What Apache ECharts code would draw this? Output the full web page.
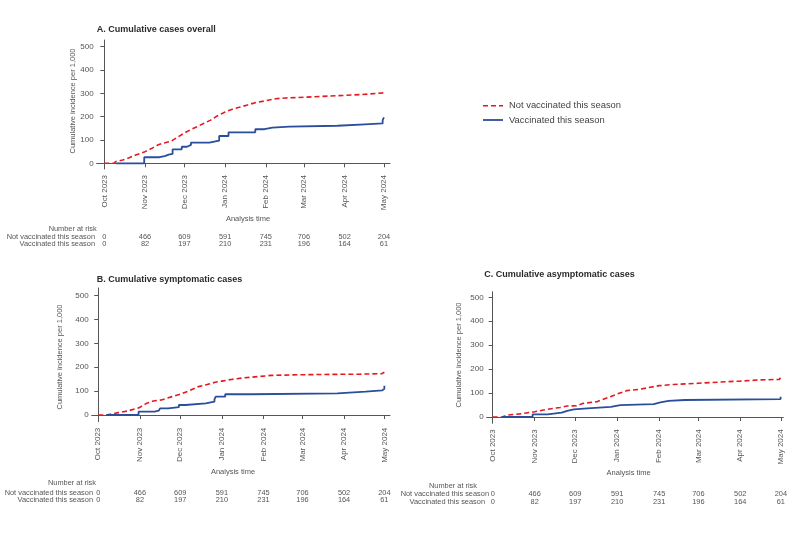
<!DOCTYPE html>
<html><head><meta charset="utf-8">
<script src="https://cdn.jsdelivr.net/npm/echarts@6/dist/echarts.min.js"></script>
<style>html,body{margin:0;padding:0;background:#fff}#c{width:800px;height:538px}</style>
</head><body><div id="c"></div>
<script>
// ---- data ----
const monthDays = [0, 31, 61, 92, 123, 152, 183, 213];           // days since 1 Oct 2023
const monthLabels = ['Oct 2023','Nov 2023','Dec 2023','Jan 2024','Feb 2024','Mar 2024','Apr 2024','May 2024'];
const yTicks = [0, 100, 200, 300, 400, 500];
const seriesNames = ['Not vaccinated this season', 'Vaccinated this season'];
const panelTitles = ['A. Cumulative cases overall', 'B. Cumulative symptomatic cases', 'C. Cumulative asymptomatic cases'];
const riskNotVax = [0, 466, 609, 591, 745, 706, 502, 204];
const riskVax = [0, 82, 197, 210, 231, 196, 164, 61];

// Panel A
const aNotVaxDays = [0, 7, 9, 14, 19, 24, 31, 35.5, 40.6, 44.4, 50.7, 55.8, 61, 66, 71, 76, 81, 86, 92, 97.6, 102.7, 109, 115, 123, 130.6, 138, 152, 166, 182.6, 196.5, 209, 212, 213.2];
const aNotVaxVals = [0, 0, 8, 14, 24, 36, 50, 62, 78, 86, 94, 112, 130, 145, 158, 172, 185, 203, 220, 232, 240, 250, 260, 268, 277, 280, 283, 287, 291, 295, 300, 302, 305];
const aVaxDays = [9, 30.4, 42, 46, 49, 52, 59, 63, 66, 80, 87.5, 94.6, 115, 122, 128, 141, 177.5, 198.5, 212, 213];
const aVaxVals = [0, 26, 31, 37, 40, 60, 71, 79, 89, 97, 117, 133, 146, 153, 157, 161, 167, 171, 185, 197];
// Panel B
const bNotVaxDays = [0, 6, 15, 22, 30.6, 36, 41, 47, 55, 61, 67, 74.6, 81, 87, 92, 99, 109, 119, 129, 144, 169, 194, 211, 213];
const bNotVaxVals = [0, 0, 10, 17, 31, 49, 59, 63, 77, 87, 100, 119, 128, 137, 142, 149, 156, 161, 166, 168, 170, 171, 173, 179];
const bVaxDays = [6, 30, 42, 45, 46, 52, 60, 65, 80, 86.5, 87.5, 94.5, 114, 178, 199, 211.5, 213];
const bVaxVals = [0, 14, 18, 22, 28, 33, 42, 49, 56, 66, 77, 87, 91, 98, 103, 110, 123];
// Panel C
const cNotVaxDays = [0, 7, 10.6, 20, 31, 40, 50, 55, 62, 67, 77, 87, 92, 99, 109, 123, 134, 152, 168, 183, 198, 212, 213];
const cNotVaxVals = [0, 0, 8, 13, 22, 32, 40, 46, 47, 57, 64, 85, 96, 110, 116, 131, 136, 141, 146, 150, 155, 157, 169];
const cVaxDays = [7, 29.5, 40.6, 51, 55, 60, 70, 87.4, 94.3, 119, 124, 130, 142, 212.8];
const cVaxVals = [0, 11, 18, 26, 32, 36, 42, 50, 54, 61, 67, 71, 75, 85];

// ---- layout ----
const FONT = 'Liberation Sans, Arial, sans-serif';
const TXT = '#555';
const RED = '#e3191f', BLUE = '#2a4e9b';
const grids = [
  {left: 96.7, top: 40, width: 293.3, height: 129},
  {left: 91.7, top: 288, width: 298.3, height: 133.7},
  {left: 486.7, top: 291.7, width: 296.6, height: 131.6}
];
const xRanges = [[-5.8, 217.6], [-4.9, 217.2], [-4.43, 214.8]];
const yRanges = [[-24.4, 528.5], [-28, 532], [-26.3, 523.4]];
const titlePos = [[96.7, 23.8], [96.7, 273.8], [484.3, 269.5]];
const yNamePos = [[73.3, 101], [60, 357], [459, 355]];
const xNamePos = [[248, 219], [233, 471.7], [628.7, 473.3]];
const riskLayout = [
  {h: [96.7, 229, 'right'], r1: [95, 236.5, 'right'], r2: [95, 243.5, 'right']},
  {h: [96, 482.7, 'right'], r1: [93, 492.5, 'right'], r2: [93, 499.5, 'right']},
  {h: [477, 486, 'right'], r1: [489, 494.3, 'right'], r2: [485, 501.7, 'right']}
];
const legendPos = {x: 483, y: [105.7, 120], len: 20, textX: 509};

const zip = (d, v) => d.map((x, i) => [x, v[i]]);
const panelData = [
  [zip(aNotVaxDays, aNotVaxVals), zip(aVaxDays, aVaxVals)],
  [zip(bNotVaxDays, bNotVaxVals), zip(bVaxDays, bVaxVals)],
  [zip(cNotVaxDays, cNotVaxVals), zip(cVaxDays, cVaxVals)]
];

const axisLine = {show: true, lineStyle: {color: '#555', width: 1}};
const xAxis = grids.map((g, i) => ({
  type: 'value', gridIndex: i, min: xRanges[i][0], max: xRanges[i][1],
  axisLine: axisLine, splitLine: {show: false},
  axisTick: {show: true, customValues: monthDays, length: 4, lineStyle: {color: '#555'}},
  axisLabel: {customValues: monthDays, rotate: 90, margin: 6, fontSize: 8, color: TXT, fontFamily: FONT,
    formatter: v => monthLabels[monthDays.indexOf(v)] || ''}
}));
const yAxis = grids.map((g, i) => ({
  type: 'value', gridIndex: i, min: yRanges[i][0], max: yRanges[i][1],
  axisLine: axisLine, splitLine: {show: false},
  axisTick: {show: true, customValues: yTicks, length: 4, lineStyle: {color: '#555'}},
  axisLabel: {customValues: yTicks, margin: 3, fontSize: 8, color: TXT, fontFamily: FONT}
}));
const series = [];
panelData.forEach((pd, i) => {
  series.push({name: seriesNames[0], type: 'line', xAxisIndex: i, yAxisIndex: i, data: pd[0],
    symbol: 'none', showSymbol: false, lineStyle: {color: RED, width: 1.6, type: [5, 3]}, itemStyle: {color: RED}});
  series.push({name: seriesNames[1], type: 'line', xAxisIndex: i, yAxisIndex: i, data: pd[1], step: 'end',
    symbol: 'none', showSymbol: false, lineStyle: {color: BLUE, width: 1.8}, itemStyle: {color: BLUE}});
});

const chart = echarts.init(document.getElementById('c'), null, {renderer: 'canvas'});
chart.setOption({
  animation: false,
  backgroundColor: '#fff',
  title: panelTitles.map((t, i) => ({text: t, left: titlePos[i][0], top: titlePos[i][1], padding: 0,
    textStyle: {fontSize: 9, fontWeight: 'bold', color: '#2a2a2a', fontFamily: FONT, lineHeight: 11}})),
  grid: grids,
  xAxis: xAxis,
  yAxis: yAxis,
  series: series
});

const gfx = [];
const txt = (x, y, s, align, size, rot, fill) => ({type: 'text', x: x, y: y, rotation: rot || 0, silent: true,
  style: {text: s, fill: fill || TXT, font: (size || 7.4) + 'px ' + FONT, align: align || 'center', verticalAlign: 'middle'}});
// legend
gfx.push({type: 'line', silent: true, shape: {x1: legendPos.x, y1: legendPos.y[0], x2: legendPos.x + legendPos.len, y2: legendPos.y[0]},
  style: {stroke: RED, lineWidth: 1.6, lineDash: [5, 3]}});
gfx.push({type: 'line', silent: true, shape: {x1: legendPos.x, y1: legendPos.y[1], x2: legendPos.x + legendPos.len, y2: legendPos.y[1]},
  style: {stroke: BLUE, lineWidth: 1.8}});
gfx.push(txt(legendPos.textX, legendPos.y[0], seriesNames[0], 'left', 9.4, 0, '#444'));
gfx.push(txt(legendPos.textX, legendPos.y[1], seriesNames[1], 'left', 9.4, 0, '#444'));

grids.forEach((g, i) => {
  gfx.push(txt(yNamePos[i][0], yNamePos[i][1], 'Cumulative incidence per 1,000', 'center', 7.5, Math.PI / 2));
  gfx.push(txt(xNamePos[i][0], xNamePos[i][1], 'Analysis time', 'center', 7.5));
  const L = riskLayout[i];
  gfx.push(txt(L.h[0], L.h[1], 'Number at risk', L.h[2]));
  gfx.push(txt(L.r1[0], L.r1[1], seriesNames[0], L.r1[2]));
  gfx.push(txt(L.r2[0], L.r2[1], seriesNames[1], L.r2[2]));
  monthDays.forEach((d, k) => {
    const px = chart.convertToPixel({xAxisIndex: i, yAxisIndex: i}, [d, 0])[0];
    gfx.push(txt(px, L.r1[1], String(riskNotVax[k]), 'center'));
    gfx.push(txt(px, L.r2[1], String(riskVax[k]), 'center'));
  });
});
chart.setOption({graphic: gfx});
</script></body></html>
